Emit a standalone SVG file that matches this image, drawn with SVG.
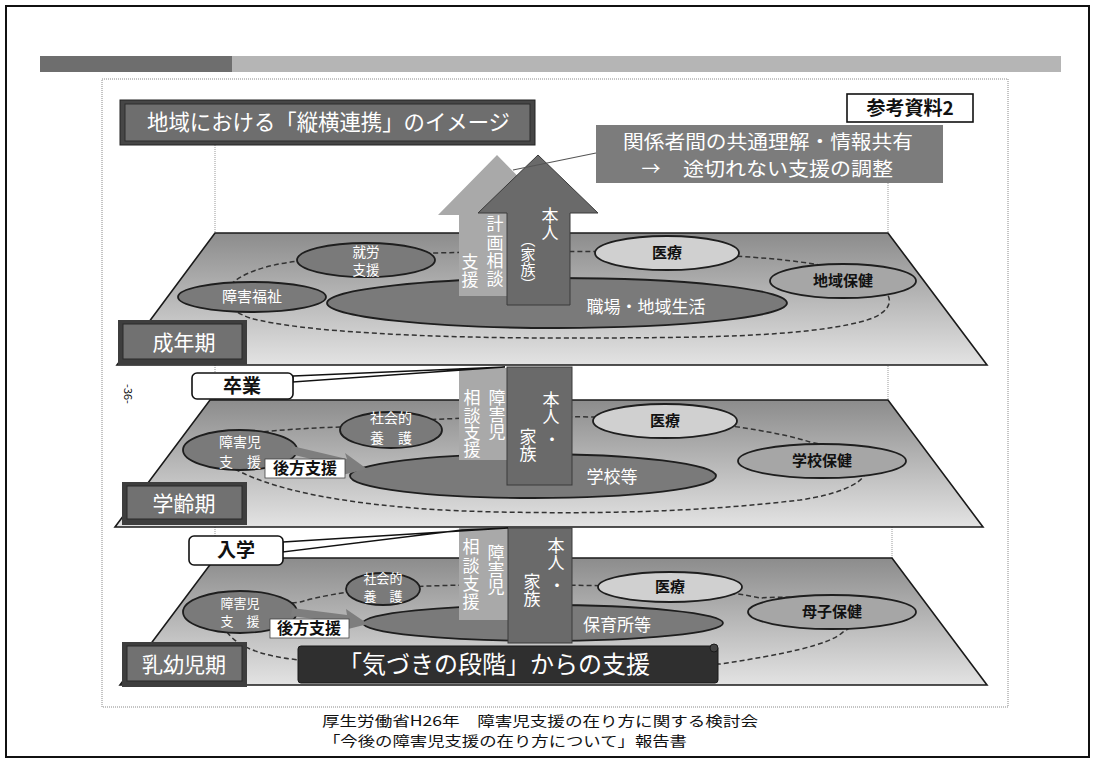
<svg xmlns="http://www.w3.org/2000/svg" width="1094" height="763" viewBox="0 0 1094 763">
<defs>
<linearGradient id="pg" x1="0" y1="0" x2="0" y2="1">
<stop offset="0" stop-color="#8c8c8c"/>
<stop offset="0.55" stop-color="#bcbcbc"/>
<stop offset="1" stop-color="#e3e3e3"/>
</linearGradient>
<style>
.t{font-family:"Noto Sans CJK JP","Noto Sans",sans-serif}
.v{writing-mode:vertical-rl}
.w{fill:#fff}
.k{fill:#111}
.b{font-weight:bold}
.ed{fill:#7a7a7a;stroke:#1e1e1e;stroke-width:1.8}
.el{fill:#d0d0d0;stroke:#1e1e1e;stroke-width:1.8}
.em{fill:#a6a6a6;stroke:#1e1e1e;stroke-width:1.8}
.dash{fill:none;stroke:#333;stroke-width:1.5;stroke-dasharray:5,3}
.plane{fill:url(#pg);stroke:#1a1a1a;stroke-width:1.6}
.guide{stroke:#999;stroke-width:1;stroke-dasharray:1,1;fill:none}
.lt{fill:#a9a9a9}
.dk{fill:#6a6a6a;stroke:#3a3a3a;stroke-width:1}
.plq{fill:#3e3e3e}
.plqi{fill:#717171;stroke:#2a2a2a;stroke-width:1}
.ptr{fill:#fff;stroke:#111;stroke-width:1.4}
.tag{fill:#fff;stroke:#111;stroke-width:1.6}
.ga{fill:#7e7e7e}
</style>
</defs>
<rect width="1094" height="763" fill="#fff"/>
<rect x="6" y="6" width="1083" height="751" fill="none" stroke="#111" stroke-width="2"/>
<rect x="40" y="56" width="192" height="16" fill="#6e6e6e"/>
<rect x="232" y="56" width="829" height="16" fill="#b5b5b5"/>
<rect x="102" y="79" width="906" height="628" fill="none" stroke="#888" stroke-width="1" stroke-dasharray="1,1"/>

<g id="guides">
<line class="guide" x1="215" y1="145" x2="215" y2="233"/>
<line class="guide" x1="888" y1="183" x2="888" y2="233"/>
<line class="guide" x1="215" y1="365" x2="215" y2="400"/>
<line class="guide" x1="888" y1="366" x2="888" y2="400"/>
<line class="guide" x1="215" y1="527" x2="215" y2="558"/>
<line class="guide" x1="892" y1="527" x2="892" y2="558"/>
</g>

<!-- Plane 1 -->
<g id="plane-adult">
<path class="plane" d="M215,233 L888,233 L987,365 L117,365 Z"/>
<path class="dash" d="M250,318 C200,300 230,268 300,261 C420,248 700,248 800,262 C900,275 910,310 860,322 C800,337 700,338 560,338 C430,338 300,332 250,318 Z"/>
</g>
<g id="n-shuro"><ellipse class="ed" cx="366" cy="260" rx="69" ry="17"/>
<text class="t w" font-size="13.5" text-anchor="middle" x="366" y="257">就労</text>
<text class="t w" font-size="13.5" text-anchor="middle" x="366" y="275">支援</text></g>
<g id="n-shogaifukushi"><ellipse class="ed" cx="252" cy="297" rx="74" ry="15"/>
<text class="t w" font-size="15" text-anchor="middle" x="252" y="302">障害福祉</text></g>
<g id="n-shokuba"><ellipse class="ed" cx="557" cy="303" rx="230" ry="25"/>
<text class="t w" font-size="17" text-anchor="middle" x="646" y="313">職場・地域生活</text></g>
<g id="n-iryo1"><ellipse class="el" cx="667" cy="253" rx="72" ry="17"/>
<text class="t k b" font-size="15" text-anchor="middle" x="667" y="258">医療</text></g>
<g id="n-chiikihoken"><ellipse class="em" cx="843" cy="281" rx="73" ry="17"/>
<text class="t k b" font-size="15" text-anchor="middle" x="843" y="286">地域保健</text></g>

<g id="arrow-keikaku">
<polygon class="lt" points="497,155 556,215 535,215 535,296 459,296 459,215 438,215"/>
<text class="t w v" font-size="17" letter-spacing="1.3" x="495" y="215.5">計画相談</text>
<text class="t w v" font-size="17" letter-spacing="1.3" x="470" y="253">支援</text>
</g>
<g id="arrow-honnin1">
<polygon class="dk" points="538,155 598,213 570,213 570,305 507,305 507,213 478,213"/>
<text class="t w v" font-size="17" x="550" y="207.5">本人</text>
<text class="t w v" font-size="15" x="528" y="232">（家族）</text>
</g>

<g id="plq-adult"><rect class="plq" x="118" y="320" width="129" height="45"/><rect class="plqi" x="123" y="324" width="119" height="35"/>
<text class="t w" font-size="21" text-anchor="middle" x="184" y="350">成年期</text></g>

<!-- Plane 2 -->
<g id="plane-school">
<path class="plane" d="M210,400 L888,400 L983,527 L115,527 Z"/>
<path class="dash" d="M233,468 C160,440 250,430 340,427 C420,418 500,416 600,417 C700,418 780,432 810,442 C900,460 870,490 800,500 C700,512 600,514 500,512 C380,510 280,495 233,468 Z"/>
</g>
<g id="n-shakai2"><ellipse class="ed" cx="391" cy="430" rx="51" ry="18"/>
<text class="t w" font-size="14" text-anchor="middle" x="391" y="423">社会的</text>
<text class="t w" font-size="14" text-anchor="middle" x="391" y="443">養　護</text></g>
<g id="n-shogaiji2"><ellipse class="ed" cx="240" cy="450" rx="57" ry="20"/>
<text class="t w" font-size="14" text-anchor="middle" x="240" y="447">障害児</text>
<text class="t w" font-size="14" text-anchor="middle" x="240" y="467">支　援</text></g>
<g id="n-gakko"><ellipse class="ed" cx="533" cy="476" rx="183" ry="22"/>
<text class="t w" font-size="17" text-anchor="middle" x="612" y="483">学校等</text></g>
<g id="n-iryo2"><ellipse class="el" cx="665" cy="421" rx="72" ry="17"/>
<text class="t k b" font-size="15" text-anchor="middle" x="665" y="426">医療</text></g>
<g id="n-gakkohoken"><ellipse class="em" cx="822" cy="461" rx="84" ry="17"/>
<text class="t k b" font-size="15" text-anchor="middle" x="822" y="466">学校保健</text></g>
<g id="arrow-shogaijisodan2">
<rect class="lt" x="459" y="368" width="48" height="92"/>
<text class="t w v" font-size="17" x="497" y="389.5">障害児</text>
<text class="t w v" font-size="17" letter-spacing="0.3" x="472" y="389.5">相談支援</text>
</g>
<g id="arrow-honnin2">
<rect class="dk" x="507" y="367" width="65" height="118"/>
<text class="t w v" font-size="17" x="551" y="391.5">本人</text>
<text class="t w" font-size="17" text-anchor="middle" x="552" y="446">・</text>
<text class="t w v" font-size="17" x="528" y="428.5">家族</text>
</g>
<g id="plq-school"><rect class="plq" x="122" y="482" width="125" height="43"/><rect class="plqi" x="127" y="486" width="115" height="33"/>
<text class="t w" font-size="21" text-anchor="middle" x="184" y="511">学齢期</text></g>

<!-- Plane 3 -->
<g id="plane-infant">
<path class="plane" d="M215,558 L892,558 L987,685 L120,685 Z"/>
<path class="dash" d="M227,632 C240,650 270,657 300,660 L720,664 C780,655 830,645 843,632 C900,600 800,595 760,598 C700,585 600,585 470,585 C400,586 340,590 300,602 C230,610 215,625 227,632 Z"/>
</g>
<g id="n-shakai3"><ellipse class="ed" cx="383" cy="589" rx="37" ry="16"/>
<text class="t w" font-size="13" text-anchor="middle" x="383" y="583">社会的</text>
<text class="t w" font-size="13" text-anchor="middle" x="383" y="601">養　護</text></g>
<g id="n-shogaiji3"><ellipse class="ed" cx="240" cy="612" rx="57" ry="21"/>
<text class="t w" font-size="13" text-anchor="middle" x="240" y="608">障害児</text>
<text class="t w" font-size="13" text-anchor="middle" x="240" y="626">支　援</text></g>
<g id="n-hoikusho"><ellipse class="ed" cx="543" cy="623" rx="180" ry="18"/>
<text class="t w" font-size="17" text-anchor="middle" x="617" y="631">保育所等</text></g>
<g id="n-iryo3"><ellipse class="el" cx="670" cy="587" rx="72" ry="15"/>
<text class="t k b" font-size="15" text-anchor="middle" x="670" y="592">医療</text></g>
<g id="n-boshihoken"><ellipse class="em" cx="832" cy="612" rx="84" ry="17"/>
<text class="t k b" font-size="15" text-anchor="middle" x="832" y="617">母子保健</text></g>
<g id="arrow-shogaijisodan3">
<rect class="lt" x="459" y="528" width="49" height="92"/>
<text class="t w v" font-size="17" x="496" y="544.5">障害児</text>
<text class="t w v" font-size="17" letter-spacing="1.2" x="471" y="538.5">相談支援</text>
</g>
<g id="arrow-honnin3">
<rect class="dk" x="508" y="528" width="64" height="115"/>
<text class="t w v" font-size="17" x="556" y="537">本人</text>
<text class="t w" font-size="17" text-anchor="middle" x="557" y="592">・</text>
<text class="t w v" font-size="17" x="532" y="573.5">家族</text>
</g>
<g id="banner-kizuki">
<rect x="298" y="646" width="420" height="37" rx="3" fill="#2f2f2f" stroke="#1a1a1a"/>
<circle cx="714" cy="648" r="4" fill="#444" stroke="#1a1a1a"/>
<text class="t w" font-size="24" text-anchor="middle" x="494" y="673">「気づきの段階」からの支援</text>
</g>
<g id="plq-infant"><rect class="plq" x="122" y="642" width="125" height="45"/><rect class="plqi" x="127" y="646" width="115" height="35"/>
<text class="t w" font-size="21" text-anchor="middle" x="184" y="672">乳幼児期</text></g>

<!-- connectors -->
<g id="connectors">
<line x1="513" y1="170" x2="596" y2="153" stroke="#555" stroke-width="1.2"/>
<polygon class="ptr" points="293,376 505,367 462,370 293,382"/>
<polygon class="ptr" points="283,542 508,528 462,530 283,552"/>
<polygon class="ga" points="292,446 347,459 345,453 367,469 342,475 345,467 290,454"/>
<polygon class="ga" points="292,608 347,615 346,609 368,624 344,630 346,623 291,616"/>
</g>

<g id="tag-sotsugyo"><rect class="tag" x="192" y="373" width="101" height="26" rx="5"/>
<text class="t k b" font-size="19" text-anchor="middle" x="242" y="393">卒業</text></g>
<g id="tag-nyugaku"><rect class="tag" x="189" y="536" width="94" height="29" rx="5"/>
<text class="t k b" font-size="19" text-anchor="middle" x="236" y="557">入学</text></g>
<g id="tag-koho2"><rect x="265" y="459" width="80" height="19" fill="#fff" stroke="#444" stroke-width="0.8"/>
<text class="t k b" font-size="16" text-anchor="middle" x="305" y="474">後方支援</text></g>
<g id="tag-koho3"><rect x="270" y="619" width="79" height="19" fill="#fff" stroke="#444" stroke-width="0.8"/>
<text class="t k b" font-size="16" text-anchor="middle" x="309" y="634">後方支援</text></g>

<g id="title">
<rect x="120" y="100" width="415" height="45" fill="#464646" stroke="#222"/>
<rect x="125" y="104" width="405" height="37" fill="#6e6e6e" stroke="#2c2c2c"/>
<text class="t w" font-size="22" x="147" y="130" textLength="363" lengthAdjust="spacingAndGlyphs">地域における「縦横連携」のイメージ</text>
</g>
<g id="callout">
<rect x="596" y="125" width="347" height="58" fill="#7c7c7c"/>
<text class="t w" font-size="19" x="623" y="149" textLength="290" lengthAdjust="spacingAndGlyphs">関係者間の共通理解・情報共有</text>
<text class="t w" font-size="19" text-anchor="middle" x="651" y="176">→</text>
<text class="t w" font-size="19" x="683" y="176" textLength="210" lengthAdjust="spacingAndGlyphs">途切れない支援の調整</text>
</g>
<g id="ref">
<rect x="847" y="94" width="126" height="28" fill="#fff" stroke="#111" stroke-width="1.6"/>
<text class="t k b" font-size="19" text-anchor="middle" x="910" y="115">参考資料2</text>
</g>
<text class="t k" font-size="11" text-anchor="middle" transform="rotate(90 128 394)" x="128" y="398">-36-</text>
<g id="caption">
<text class="t k" font-size="14" x="322" y="726" textLength="436" lengthAdjust="spacingAndGlyphs">厚生労働省H26年　障害児支援の在り方に関する検討会</text>
<text class="t k" font-size="14" x="323" y="746" textLength="364" lengthAdjust="spacingAndGlyphs">「今後の障害児支援の在り方について」報告書</text>
</g>
</svg>
